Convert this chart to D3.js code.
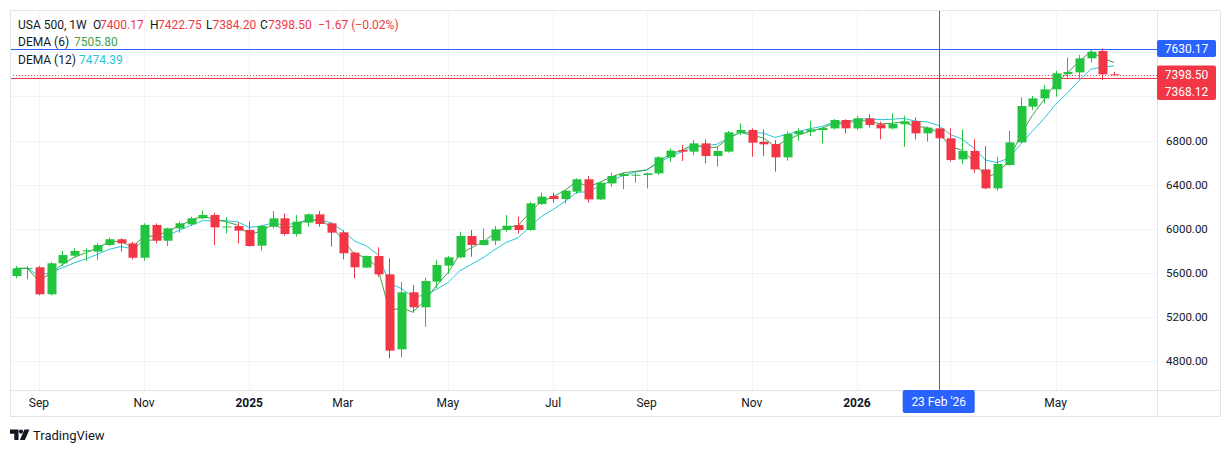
<!DOCTYPE html>
<html><head><meta charset="utf-8">
<script src="https://cdn.jsdelivr.net/npm/d3@7"></script>
<style>
html,body{margin:0;padding:0;background:#fff;}
svg{display:block;font-family:Roboto,"Noto Sans",sans-serif;}
</style></head><body>
<svg id="chart" width="1231" height="452"></svg>
<script>
// ---- data (weekly bars, first bar = week of 19 Aug 2024) ----
const startWeek = "2024-08-19";
const opens = [5571,5636,5650,5405,5686,5755,5796,5792,5852,5904,5867,5737,6034,5891,6003,6040,6094,6124,6012,6024,
5988,5846,6018,6094,5952,6055,6130,6049,5967,5783,5647,5752,5586,4906,5423,5287,5520,5665,5740,5934,
5852,5891,5988,6033,5988,6224,6297,6269,6336,6448,6266,6411,6478,6484,6487,6502,6647,6714,6699,6774,
6659,6699,6871,6895,6789,6768,6647,6856,6880,6895,6910,6986,6910,7001,6947,6910,6947,6977,6865,6910,
6820,6629,6705,6538,6366,6578,6783,7107,7182,7264,7403,7418,7545,7612,7400.17];
const highs = [5662,5662,5662,5698,5798,5822,5822,5867,5919,5913,5882,6049,6049,6009,6064,6109,6164,6145,6103,6055,
6064,6034,6160,6139,6124,6139,6160,6055,5988,5792,5758,5831,5731,5520,5489,5556,5716,5752,5973,5988,
6003,6024,6124,6109,6245,6327,6327,6357,6457,6478,6426,6508,6508,6508,6508,6659,6729,6759,6804,6810,
6750,6886,6956,6910,6901,6804,6880,6910,6977,6925,6995,6992,7022,7040,6971,7046,7025,7010,6925,6950,
6910,6901,6811,6750,6653,6889,7192,7204,7303,7433,7554,7576,7627,7636,7422.75];
const lows = [5550,5541,5396,5396,5662,5746,5707,5716,5843,5792,5722,5710,5867,5843,5964,6024,6085,5852,5958,5867,
5837,5801,6003,5937,5928,6018,6018,5837,5722,5550,5641,5565,4824,4833,5238,5111,5459,5589,5731,5746,
5846,5852,5973,5958,5979,6215,6236,6230,6315,6236,6260,6381,6357,6417,6366,6487,6608,6614,6668,6593,
6563,6690,6850,6653,6659,6517,6617,6798,6841,6774,6901,6865,6895,6919,6811,6901,6744,6811,6789,6811,
6608,6584,6508,6357,6345,6569,6774,7077,7137,7198,7355,7355,7506,7349,7384.20];
const closes = [5640,5643,5405,5686,5761,5798,5804,5852,5904,5867,5737,6034,5891,6003,6049,6094,6124,6012,6020,5982,
5843,6024,6094,5952,6064,6130,6043,5964,5777,5650,5752,5586,4894,5423,5287,5526,5671,5740,5934,5852,
5897,5994,6027,5988,6230,6291,6269,6345,6448,6266,6417,6478,6496,6490,6502,6647,6708,6699,6774,6659,
6705,6874,6895,6780,6765,6647,6859,6886,6901,6913,6986,6910,7001,6941,6910,6950,6974,6865,6916,6820,
6623,6705,6538,6366,6587,6783,7113,7182,7264,7409,7421,7545,7606,7400.17,7398.50];

const priceTicks = [4800,5200,5600,6000,6400,6800,7200,7600];
const timeTickLabels = ["Sep","Nov","2025","Mar","May","Jul","Sep","Nov","2026","Mar","May"];
const timeTickIndex  = [2,11,20,28,37,46,54,63,72,80,89];
const yearLabels = ["2025","2026"];

const crossIndex = 79, crossLabel = "23 Feb '26", crossPrice = 7630.17;
const lastPrice = 7398.50, otherPrice = 7368.12;
const dema6Last = "7505.80", dema12Last = "7474.39";

// ---- layout ----
const paneL=10, paneR=1157, paneT=10, paneB=390, axisR=1220, axisB=416;
const GREEN="#22c33f", RED="#f23645", BLUE="#2962ff", GRID="#f0f3fa", BORDER="#e0e3eb", TXT="#131722";
const DEMA6C="#43a047", DEMA12C="#26c6da";

const svg = d3.select("#chart");
const x = d3.scaleLinear().domain([0, closes.length-1]).range([15.5, 1114]);
const y = d3.scaleLinear().domain([4800, 6800]).range([361, 140.5]);
const dates = closes.map((_, i) => d3.utcDay.offset(new Date(startWeek+"T00:00:00Z"), 7*i));

// indicators from closes
function ema(arr, n){ const a=2/(n+1); const out=[]; arr.forEach((v,i)=>out.push(i===0?v:a*v+(1-a)*out[i-1])); return out; }
function dema(arr, n){ const e1=ema(arr,n), e2=ema(e1,n); return e1.map((v,i)=>2*v-e2[i]); }
const d6 = dema(closes, 6), d12 = dema(closes, 12);

svg.append("defs").append("clipPath").attr("id","pane").append("rect")
  .attr("x",paneL).attr("y",paneT).attr("width",paneR-paneL).attr("height",paneB-paneT);

// grid
const grid = svg.append("g");
grid.selectAll(".hg").data(priceTicks).join("line")
  .attr("x1",paneL).attr("x2",paneR)
  .attr("y1",d=>Math.round(y(d))+0.5).attr("y2",d=>Math.round(y(d))+0.5)
  .attr("stroke",GRID);
grid.selectAll(".vg").data(timeTickIndex).join("line")
  .attr("x1",d=>Math.round(x(d))+0.5).attr("x2",d=>Math.round(x(d))+0.5)
  .attr("y1",paneT).attr("y2",paneB).attr("stroke",GRID);

const pane = svg.append("g").attr("clip-path","url(#pane)");

// price lines
pane.append("line").attr("x1",paneL).attr("x2",paneR)
  .attr("y1",Math.round(y(otherPrice))+0.5).attr("y2",Math.round(y(otherPrice))+0.5)
  .attr("stroke",RED).attr("stroke-width",1);
pane.append("line").attr("x1",paneL).attr("x2",paneR)
  .attr("y1",Math.round(y(lastPrice))+0.5).attr("y2",Math.round(y(lastPrice))+0.5)
  .attr("stroke",RED).attr("stroke-width",1).attr("stroke-dasharray","1,2");

// DEMA lines
const line = d3.line().x((d,i)=>x(i)).y(d=>y(d));
pane.append("path").datum(d12).attr("d",line).attr("fill","none").attr("stroke",DEMA12C).attr("stroke-width",1);
pane.append("path").datum(d6).attr("d",line).attr("fill","none").attr("stroke",DEMA6C).attr("stroke-width",1);

// candles
const idx = d3.range(closes.length);
const cg = pane.append("g");
cg.selectAll(".wick").data(idx).join("line")
  .attr("x1",i=>Math.round(x(i))+0.5).attr("x2",i=>Math.round(x(i))+0.5)
  .attr("y1",i=>y(highs[i])).attr("y2",i=>y(lows[i]))
  .attr("stroke",i=>closes[i]>=opens[i]?GREEN:RED).attr("stroke-width",1);
cg.selectAll(".body").data(idx).join("rect")
  .attr("x",i=>Math.round(x(i))-3.5).attr("width",9)
  .attr("y",i=>y(Math.max(opens[i],closes[i])))
  .attr("height",i=>Math.max(1, Math.abs(y(opens[i])-y(closes[i]))))
  .attr("fill",i=>closes[i]>=opens[i]?GREEN:RED);

// crosshair
pane.append("line").attr("x1",Math.round(x(crossIndex))+0.5).attr("x2",Math.round(x(crossIndex))+0.5)
  .attr("y1",paneT).attr("y2",paneB).attr("stroke",BLUE);
pane.append("line").attr("x1",paneL).attr("x2",paneR)
  .attr("y1",Math.round(y(crossPrice))+0.5).attr("y2",Math.round(y(crossPrice))+0.5).attr("stroke",BLUE);

// frame
svg.append("rect").attr("x",paneL+0.5).attr("y",paneT+0.5).attr("width",axisR-paneL).attr("height",axisB-paneT)
  .attr("fill","none").attr("stroke",BORDER);
svg.append("line").attr("x1",paneR+0.5).attr("x2",paneR+0.5).attr("y1",paneT).attr("y2",axisB).attr("stroke",BORDER);
svg.append("line").attr("x1",paneL).attr("x2",axisR).attr("y1",paneB+0.5).attr("y2",paneB+0.5).attr("stroke",BORDER);

// price axis labels (hide those covered by boxes)
const boxes = [[40,57],[65,100]];
svg.append("g").selectAll("text").data(priceTicks.filter(p=>!boxes.some(b=>y(p)>b[0]-6&&y(p)<b[1]+6))).join("text")
  .attr("x",1166).attr("y",d=>y(d)).attr("dy","0.35em").attr("font-size",11.5).attr("fill",TXT)
  .text(d=>d3.format(".2f")(d));

// time axis labels (the one under the crosshair label is hidden)
const cx = x(crossIndex);
const tl = svg.append("g");
timeTickIndex.forEach((ti,k)=>{
  if (Math.abs(x(ti)-cx) < 50) return;
  tl.append("text").attr("x",x(ti)).attr("y",403).attr("dy","0.35em").attr("text-anchor","middle")
    .attr("font-size",12).attr("fill",TXT)
    .attr("font-weight",yearLabels.includes(timeTickLabels[k])?"bold":"normal")
    .text(timeTickLabels[k]);
});

// crosshair time label
svg.append("rect").attr("x",cx-36).attr("y",390).attr("width",72).attr("height",23).attr("rx",2).attr("fill",BLUE);
svg.append("text").attr("x",cx).attr("y",402).attr("dy","0.35em").attr("text-anchor","middle")
  .attr("font-size",12).attr("fill","#fff").text(crossLabel);

// price boxes
function priceBox(y0,h,col,texts){
  svg.append("rect").attr("x",paneR).attr("y",y0).attr("width",59).attr("height",h).attr("rx",2).attr("fill",col);
  texts.forEach(t=>svg.append("text").attr("x",paneR+29.5).attr("y",t[1]).attr("dy","0.35em")
    .attr("text-anchor","middle").attr("font-size",12).attr("fill","#fff").text(t[0]));
}
priceBox(40,17,BLUE,[[d3.format(".2f")(crossPrice), y(crossPrice)]]);
priceBox(65.5,34.5,RED,[[d3.format(".2f")(lastPrice), 74.5],[d3.format(".2f")(otherPrice), 91.5]]);

// legend
const lg = svg.append("g").attr("font-size",12);
function lt(xp,yp,txt,col){ lg.append("text").attr("x",xp).attr("y",yp).attr("dy","0.35em").attr("fill",col).text(txt); }
const n = closes.length-1;
const chg = closes[n]-closes[n-1];
lt(18,24.5,"USA 500, 1W",TXT);
lt(93,24.5,"O",TXT); lt(100,24.5,d3.format(".2f")(opens[n]),RED);
lt(150,24.5,"H",TXT); lt(158,24.5,d3.format(".2f")(highs[n]),RED);
lt(206,24.5,"L",TXT); lt(212.5,24.5,d3.format(".2f")(lows[n]),RED);
lt(260,24.5,"C",TXT); lt(268,24.5,d3.format(".2f")(closes[n]),RED);
lt(318,24.5,"\u2212"+d3.format(".2f")(Math.abs(chg))+" (\u2212"+d3.format(".2f")(Math.abs(chg/closes[n-1]*100))+"%)",RED);
lt(18,42,"DEMA (6)",TXT); lt(74,42,dema6Last,DEMA6C);
lt(18,59.5,"DEMA (12)",TXT); lt(79,59.5,dema12Last,DEMA12C);

// TradingView logo
const logo = svg.append("g").attr("fill",TXT);
logo.append("path").attr("d","M10,429.5h8.5v10.5h-4.2v-6.3h-4.3z");
logo.append("circle").attr("cx",21).attr("cy",431.6).attr("r",2.1);
logo.append("path").attr("d","M24.5,429.5h5l-4.6,10.5h-5z");
svg.append("text").attr("x",33).attr("y",435).attr("dy","0.35em").attr("font-size",13).attr("fill",TXT).text("TradingView");
</script>
</body></html>
